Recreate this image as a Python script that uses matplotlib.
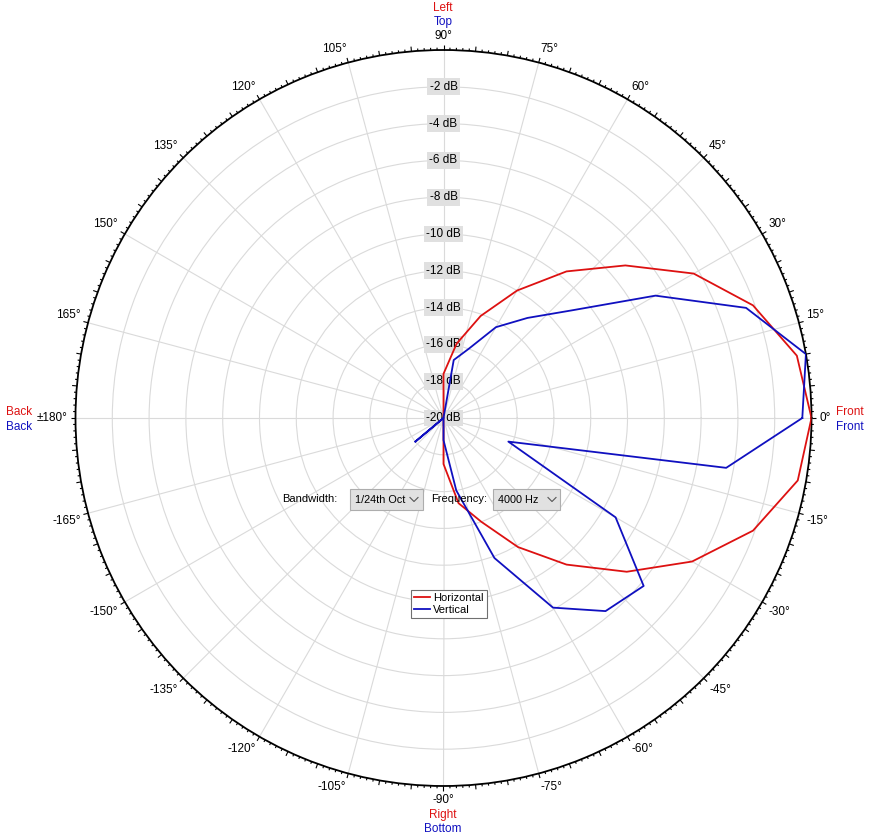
import numpy as np
import matplotlib.pyplot as plt
from matplotlib.lines import Line2D
from matplotlib.patches import Rectangle

plt.rcParams['font.family'] = ['Liberation Sans', 'DejaVu Sans']

# datos (angulo en grados, nivel en dB, -20 = centro)
angulos = list(range(0, 360, 10))
horizontal = [0.0, -0.5, -2.1, -4.3, -7.1, -9.6, -12.0, -14.1, -15.9, -17.6,
              -20, -20, -20, -20, -20, -20, -20, -20, -20, -20, -20, -20, -20, -20, -20, -20, -20,
              -17.5, -15.3, -14.0, -11.9, -9.6, -7.0, -4.4, -2.1, -0.45]
vertical = [-0.5, 0.0, -2.5, -6.7, -10.9, -12.9, -14.3, -16.0, -16.8,
            -20, -20, -20, -20, -20, -20, -20, -20, -20, -20, -20, -20, -20,
            -18.0, -20, -20, -20, -20,
            -18.8, -16.0, -11.9, -8.1, -6.3, -5.8, -9.2, -16.25, -4.4]
niveles = [-2, -4, -6, -8, -10, -12, -14, -16, -18, -20]
marcas = list(range(-165, 195, 15))

W, H = 875, 838
cx, cy, R = 443.5, 418, 368
rojo = '#dd1111'
azul = '#1010c0'


def px(x, y):
    return x / W, 1 - y / H


fig = plt.figure(figsize=(W / 100, H / 100), dpi=100)
ax = fig.add_axes([(cx - R) / W, 1 - (cy + R) / H, 2 * R / W, 2 * R / H], projection='polar')
ax.set_rlim(-20, 0)
ax.set_axisbelow(True)
ax.set_thetagrids(range(0, 360, 15), labels=[])
ax.set_rgrids(range(-18, 0, 2), labels=[])
ax.grid(color='#dadada', lw=0.8)
ax.tick_params(length=0)
ax.spines['polar'].set_color('black')
ax.spines['polar'].set_linewidth(1.3)

# marcas del borde
t1 = np.deg2rad([a for a in range(360) if a % 5])
t5 = np.deg2rad(range(0, 360, 5))
ax.vlines(t1, 0, 0.13, color='black', lw=0.8, clip_on=False)
ax.vlines(t5, 0, 0.26, color='black', lw=0.8, clip_on=False)

for a in marcas:
    t = np.deg2rad(a)
    c, s = np.cos(t), np.sin(t)
    ha = 'left' if c > 0.1 else ('right' if c < -0.1 else 'center')
    va = 'bottom' if s > 0.1 else ('top' if s < -0.1 else 'center')
    txt = '±180°' if a == 180 else f'{a}°'
    ax.text(t, 0.42, txt, ha=ha, va=va, fontsize=8.5, clip_on=False)

for n in niveles:
    ax.text(np.pi / 2, n, f'{n} dB', ha='center', va='center', fontsize=8.5, zorder=1,
            bbox=dict(boxstyle='square,pad=0.2', fc='#e0e0e0', ec='none'))

th = np.deg2rad(angulos + [angulos[0]])
ax.plot(th, horizontal + [horizontal[0]], color=rojo, lw=1.3, label='Horizontal', zorder=3)
ax.plot(th, vertical + [vertical[0]], color=azul, lw=1.3, label='Vertical', zorder=3)

# textos de los lados
for x, y, s, col in [(443, 8, 'Left', rojo), (443, 22, 'Top', azul),
                     (443, 815, 'Right', rojo), (443, 829, 'Bottom', azul)]:
    fig.text(*px(x, y), s, color=col, ha='center', va='center', fontsize=8.5)
for x, y, s, col in [(6, 412, 'Back', rojo), (6, 427, 'Back', azul),
                     (836, 412, 'Front', rojo), (836, 427, 'Front', azul)]:
    fig.text(*px(x, y), s, color=col, ha='left', va='center', fontsize=8.5)

# controles
fig.text(*px(282, 499), 'Bandwidth:', ha='left', va='center', fontsize=8)
fig.text(*px(431, 499), 'Frequency:', ha='left', va='center', fontsize=8)
for x0, x1, s, xc in [(350, 423, '1/24th Oct', 414), (493, 560, '4000 Hz', 552)]:
    x, y = px(x0, 510)
    fig.patches.append(Rectangle((x, y), (x1 - x0) / W, 21 / H, transform=fig.transFigure,
                                 fc='#e1e1e1', ec='#adadad', lw=0.8))
    fig.text(*px(x0 + 5, 499.5), s, ha='left', va='center', fontsize=7.8)
    xs, ys = zip(px(xc - 4, 497.5), px(xc, 501.5), px(xc + 4, 497.5))
    fig.lines.append(Line2D(xs, ys, transform=fig.transFigure, color='#555555', lw=0.8))

leg = fig.legend(loc='upper left', bbox_to_anchor=px(411, 590), bbox_transform=fig.transFigure,
                 borderaxespad=0, fontsize=8, fancybox=False, edgecolor='#707070',
                 handlelength=1.4, handletextpad=0.3, borderpad=0.3, labelspacing=0.15,
                 framealpha=1)
leg.get_frame().set_linewidth(0.8)

fig.savefig('out.png', dpi=100)
